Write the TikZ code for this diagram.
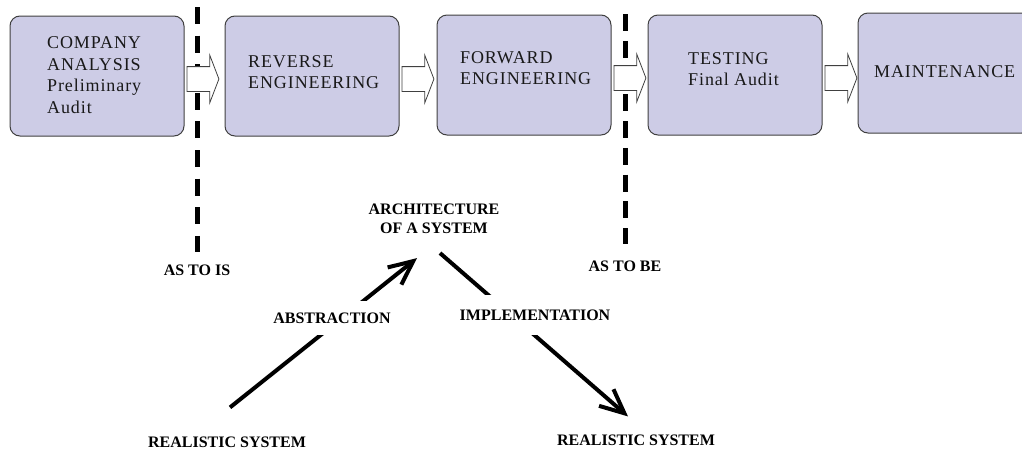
\documentclass[tikz,border=0pt]{standalone}
\usepackage{fontspec}
\setmainfont{Liberation Serif}
\newfontfamily\stagefont[LetterSpace=5]{Liberation Serif}
\usetikzlibrary{positioning, shapes.arrows, arrows.meta}

\definecolor{stagefill}{RGB}{205,204,230}
\definecolor{stageline}{RGB}{64,64,64}

\tikzset{
    stage/.style={draw=stageline, fill=stagefill, rounded corners=10pt,
        minimum width=174pt, minimum height=120pt, line width=1pt},
    stagetext/.style={anchor=west, align=left, inner sep=0pt, text=black!90,
        font=\stagefont\fontsize{18}{21.5}\selectfont},
    flowarrow/.style={single arrow, draw=stageline, fill=white, line width=0.8pt,
        inner xsep=0pt, inner ysep=12pt, minimum height=32pt,
        single arrow head extend=11.5pt, single arrow tip angle=138},
    divider/.style={line width=5pt},
    tag/.style={font=\bfseries\fontsize{16}{19}\selectfont, inner sep=2pt, align=center},
    bigarrow/.style={line width=4pt, -{Straight Barb[length=24pt, width=22pt]}},
}

\begin{document}
\begin{tikzpicture}[x=1pt, y=-1pt]
    \useasboundingbox (0,0) rectangle (1022,453);

    % stages
    \node[stage] (company)     at (97,76)  {};
    \node[stage] (reverse)     at (312,76) {};
    \node[stage] (forward)     at (524,75) {};
    \node[stage] (testing)     at (735,75) {};
    \node[stage] (maintenance) at (945,73) {};

    \node[stagetext] (company-txt)     at (47,75)  {COMPANY\\ANALYSIS\\Preliminary\\Audit};
    \node[stagetext] (reverse-txt)     at (248,72) {REVERSE\\ENGINEERING};
    \node[stagetext] (forward-txt)     at (460,68) {FORWARD\\ENGINEERING};
    \node[stagetext] (testing-txt)     at (688,69) {TESTING\\Final Audit};
    \node[stagetext] (maintenance-txt) at (874,72) {MAINTENANCE};

    % as-is / to-be borders
    \node[tag] (asis) at (197,270) {AS TO IS};
    \node[tag] (asbe) at (625,266) {AS TO BE};
    \coordinate (asis-top) at (197,7);
    \coordinate (asbe-top) at (625,14);
    \draw[divider, dash pattern=on 17pt off 11.6pt, shorten >=10pt] (asis-top) -- (asis);
    \draw[divider, dash pattern=on 17pt off 9.75pt, shorten >=14pt] (asbe-top) -- (asbe);

    \node[flowarrow, right=2pt of company, yshift=-3pt] (a1) {};
    \node[flowarrow, right=2pt of reverse, yshift=-3pt] (a2) {};
    \node[flowarrow, right=2pt of forward, yshift=-3pt] (a3) {};
    \node[flowarrow, right=2pt of testing, yshift=-3pt] (a4) {};

    % abstraction / implementation
    \node[tag] (arch)  at (434,219) {ARCHITECTURE\\OF A SYSTEM};
    \node[tag] (real1) at (227,442) {REALISTIC SYSTEM};
    \node[tag] (real2) at (636,440) {REALISTIC SYSTEM};

    \draw[bigarrow] ([shift={(3,-27)}]real1.north) -- ([shift={(-17,22)}]arch.south);
    \draw[bigarrow] ([shift={(6,17)}]arch.south) -- ([shift={(-8,-16)}]real2.north);

    \node[tag, fill=white, inner ysep=12pt] (abstr) at (332,318) {ABSTRACTION};
    \node[tag, fill=white, inner ysep=15pt] (impl)  at (535,315) {IMPLEMENTATION};
\end{tikzpicture}
\end{document}
